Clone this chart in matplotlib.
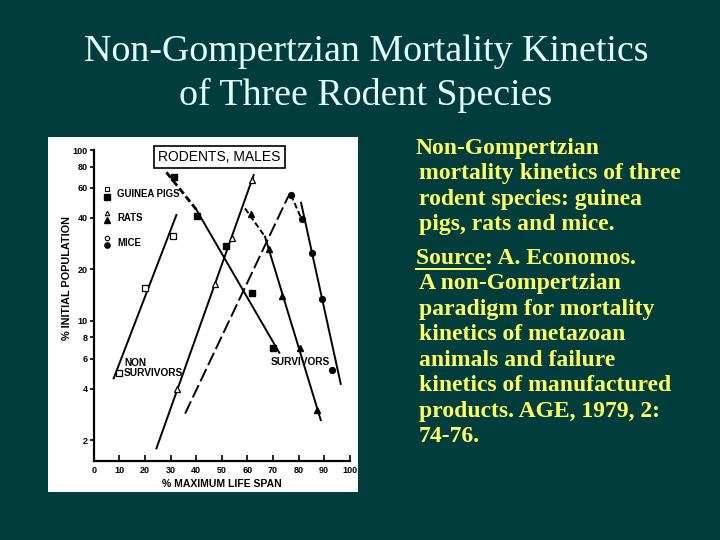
import numpy as np
import matplotlib
matplotlib.use("Agg")
import matplotlib.pyplot as plt
from matplotlib.lines import Line2D
from matplotlib.ticker import FixedLocator, NullLocator

# ----------------------------
# Datos
# ----------------------------

# Cobayas (guinea pigs)
gp_ns_x = [9.9, 19.9, 31.0]
gp_ns_y = [4.96, 15.6, 31.5]
gp_ns_fit_x = [7.8, 32.3]
gp_ns_fit_y = [4.6, 41.6]

gp_s_x = [31.25, 40.4, 51.6, 61.7, 70.2]
gp_s_y = [69.8, 41.0, 27.4, 14.6, 6.96]
gp_s_dash_x = [28.4, 40.0]
gp_s_dash_y = [74.0, 45.0]
gp_s_fit_x = [40.0, 72.5]
gp_s_fit_y = [45.0, 6.5]

# Ratas
rat_ns_x = [32.7, 47.5, 54.1, 61.7]
rat_ns_y = [3.96, 16.5, 30.4, 66.7]
rat_ns_fit_x = [24.5, 62.5]
rat_ns_fit_y = [1.79, 71.4]

rat_s_x = [61.4, 68.6, 73.6, 80.5, 87.3]
rat_s_y = [42.0, 26.2, 14.0, 6.96, 3.0]
rat_s_dash_x = [59.1, 66.9]
rat_s_dash_y = [45.5, 31.1]
rat_s_fit_x = [66.9, 88.7]
rat_s_fit_y = [31.1, 2.62]

# Ratones (mice)
mice_ns_fit_x = [35.7, 76.0]
mice_ns_fit_y = [2.86, 53.5]

mice_s_x = [77.1, 81.2, 85.4, 89.3, 93.0]
mice_s_y = [54.5, 39.3, 25.1, 13.5, 5.14]
mice_s_dash_x = [77.1, 81.2]
mice_s_dash_y = [54.5, 39.3]
mice_s_fit_x = [81.0, 96.5]
mice_s_fit_y = [49.1, 4.27]

x_ticks = [0, 10, 20, 30, 40, 50, 60, 70, 80, 90, 100]
y_ticks = [2, 4, 6, 8, 10, 20, 40, 60, 80, 100]
y_tick_labels = ["2", "4", "6", "8", "10", "20", "40", "60", "80", "100"]

legend_names = ["GUINEA PIGS", "RATS", "MICE"]
legend_markers = ["s", "^", "o"]

title_lines = ["Non-Gompertzian Mortality Kinetics", "of Three Rodent Species"]

side_lines = [
    "Non-Gompertzian",
    "mortality kinetics of three",
    "rodent species: guinea",
    "pigs, rats and mice.",
    "Source: A. Economos.",
    "A non-Gompertzian",
    "paradigm for mortality",
    "kinetics of metazoan",
    "animals and failure",
    "kinetics of manufactured",
    "products. AGE, 1979, 2:",
    "74-76.",
]

# ----------------------------
# Estilo
# ----------------------------
BG = "#013d3d"
TITLE_C = "#e4ffff"
YELLOW = "#ffff66"
W, H = 720, 540
SANS = "Liberation Sans"

fig = plt.figure(figsize=(7.2, 5.4), dpi=100, facecolor=BG)


def fx(px):
    return px / W


def fy(py):
    return 1 - py / H


# Título
for i, line in enumerate(title_lines):
    fig.text(fx(366), fy(52 + 43 * i), line, ha="center", va="center",
             color=TITLE_C, fontsize=27.3, family="Liberation Serif")

# Fondo blanco del gráfico escaneado
bg = fig.add_axes([fx(48), fy(492), 310 / W, 355 / H], zorder=0)
bg.set_facecolor("white")
bg.set_xticks([])
bg.set_yticks([])
for s in bg.spines.values():
    s.set_visible(False)

# ----------------------------
# Gráfico
# ----------------------------
ax = fig.add_axes([fx(93.7), fy(460.5), 256 / W, 310.5 / H], zorder=1)
ax.set_facecolor("none")
ax.set_yscale("log")
ax.set_xlim(0, 100)
ax.set_ylim(1.52, 100)
for s in ["top", "right"]:
    ax.spines[s].set_visible(False)
for s in ["left", "bottom"]:
    ax.spines[s].set_linewidth(1.6)
ax.xaxis.set_major_locator(FixedLocator(x_ticks))
ax.yaxis.set_major_locator(FixedLocator(y_ticks))
ax.yaxis.set_minor_locator(NullLocator())
ax.set_yticklabels(y_tick_labels)
ax.tick_params(axis="x", direction="in", length=4, width=1.2, pad=4,
               labelsize=6.5)
ax.tick_params(axis="y", direction="out", length=3, width=1.2, pad=1.5,
               labelsize=6.5)
for lab in ax.get_xticklabels() + ax.get_yticklabels():
    lab.set_fontweight("bold")
    lab.set_family(SANS)
ax.set_xlabel("% MAXIMUM LIFE SPAN", fontsize=7.5, fontweight="bold",
              family=SANS)
ax.set_ylabel("% INITIAL POPULATION", fontsize=7.8, fontweight="bold",
              family=SANS)
ax.xaxis.set_label_coords(0.5, -0.058)
ax.yaxis.set_label_coords(-0.083, 0.589)

lw = 1.4
k = "black"
# lineas de ajuste
ax.plot(gp_ns_fit_x, gp_ns_fit_y, color=k, lw=lw)
ax.plot(gp_s_dash_x, gp_s_dash_y, color=k, lw=2.0, dashes=(2.5, 1.2))
ax.plot(gp_s_fit_x, gp_s_fit_y, color=k, lw=lw)
ax.plot(rat_ns_fit_x, rat_ns_fit_y, color=k, lw=lw)
ax.plot(rat_s_dash_x, rat_s_dash_y, color=k, lw=lw, dashes=(3, 1.5))
ax.plot(rat_s_fit_x, rat_s_fit_y, color=k, lw=lw)
ax.plot(mice_ns_fit_x, mice_ns_fit_y, color=k, lw=lw, dashes=(7, 2.2))
ax.plot(mice_s_dash_x, mice_s_dash_y, color=k, lw=lw, dashes=(3, 1.5))
ax.plot(mice_s_fit_x, mice_s_fit_y, color=k, lw=lw)

# puntos
ax.plot(gp_ns_x, gp_ns_y, "s", ms=3.8, mfc="white", mec=k, mew=0.9)
ax.plot(gp_s_x, gp_s_y, "s", ms=4.5, color=k)
ax.plot(rat_ns_x, rat_ns_y, "^", ms=3.8, mfc="white", mec=k, mew=0.9)
ax.plot(rat_s_x, rat_s_y, "^", ms=4.8, color=k)
ax.plot(mice_s_x, mice_s_y, "o", ms=4.2, color=k)

# leyenda dibujada como en el original
legend_y = [0.857, 0.780, 0.700]
for name, m, yc in zip(legend_names, legend_markers, legend_y):
    ax.plot([0.052], [yc + 0.016], m, ms=3.2, mfc="white", mec=k, mew=0.8,
            transform=ax.transAxes, clip_on=False)
    ax.plot([0.052], [yc - 0.007], m, ms=3.8, color=k,
            transform=ax.transAxes, clip_on=False)
    ax.text(0.092, yc, name, transform=ax.transAxes, fontsize=6.9,
            fontweight="bold", family=SANS, va="center")

ax.text(0.492, 0.978, "RODENTS, MALES", transform=ax.transAxes, ha="center",
        va="center", fontsize=10, family=SANS,
        bbox=dict(boxstyle="square,pad=0.3", facecolor="white",
                  edgecolor=k, linewidth=1.2))

ax.text(11.8, 5.3, "NON\nSURVIVORS", fontsize=7.3, fontweight="bold",
        family=SANS, va="center", ha="left", linespacing=1.0)
ax.text(80.6, 5.7, "SURVIVORS", fontsize=7.3, fontweight="bold",
        family=SANS, va="center", ha="center")

# ----------------------------
# Texto lateral
# ----------------------------
FS = 17
x_first = [416, 419, 419, 419, 416, 419, 419, 419, 419, 419, 419, 419]
y_start = 148
step = 25.5
y_pos = [y_start + step * i for i in range(4)] + \
        [258.3 + step * i for i in range(8)]
for line, x0, y0 in zip(side_lines, x_first, y_pos):
    fig.text(fx(x0), fy(y0), line, ha="left", va="center",
             color=YELLOW, fontsize=FS, fontweight="bold",
             family="Liberation Serif")

# subrayado de "Source" (se mide el ancho y se quita el texto auxiliar)
renderer = fig.canvas.get_renderer()
src = fig.text(fx(x_first[4]), fy(y_pos[4]), "Source", ha="left",
               va="center", fontsize=FS, fontweight="bold",
               family="Liberation Serif")
bb = src.get_window_extent(renderer)
src.remove()
yline = fy(y_pos[4] + 11)
fig.add_artist(Line2D([bb.x0 / W, bb.x1 / W], [yline, yline],
                      transform=fig.transFigure, color=YELLOW, lw=1.4))

fig.savefig("out.png", dpi=100, facecolor=BG)
